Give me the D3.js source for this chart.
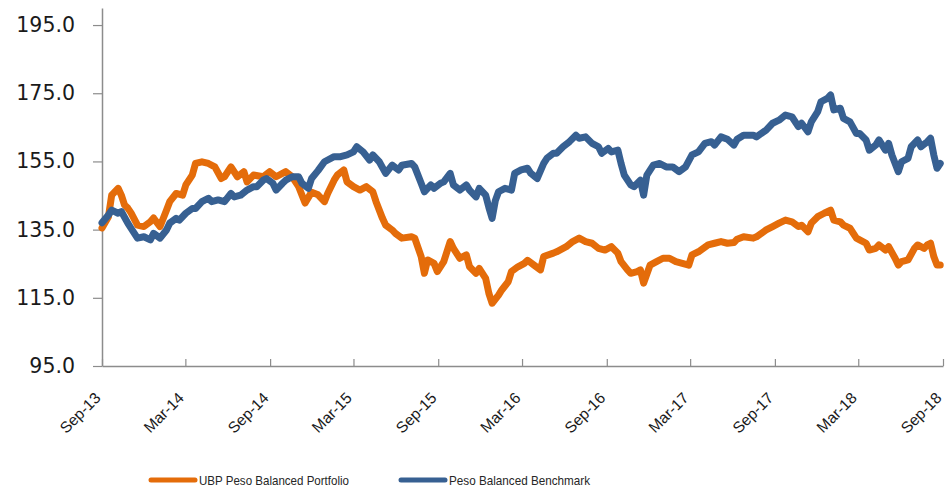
<!DOCTYPE html>
<html><head><meta charset="utf-8">
<script src="https://cdn.jsdelivr.net/npm/d3@7"></script>
<style>html,body{margin:0;padding:0;background:#fff;}svg{display:block;}</style>
</head><body>
<svg id="chart" width="945" height="488"></svg>
<script>
// Series names
const seriesNames = ["UBP Peso Balanced Portfolio", "Peso Balanced Benchmark"];
// Data: [weeks since 1 Sep 2013, index value]
const portfolio = [[0,135.5],[2,138.8],[3,145.1],[5,147.1],[6,145.1],[7,142.2],[8,141.3],[9,139.9],[11,136.3],[13,135.9],[15,137.3],[16,138.4],[18,135.9],[20,140.7],[21,143.2],[23,145.6],[25,145.1],[26,148.1],[28,151.0],[29,154.4],[31,154.9],[33,154.4],[35,153.4],[37,150.0],[38,150.5],[40,153.4],[42,150.5],[44,152.0],[45,149.0],[47,151.0],[50,150.5],[52,152.0],[54,150.5],[57,152.0],[59,150.5],[61,147.6],[63,142.8],[65,146.0],[67,145.2],[69,143.2],[70,145.6],[72,149.5],[73,151.0],[75,152.5],[76,149.0],[78,147.6],[80,146.6],[82,147.6],[84,146.1],[85,143.2],[87,138.3],[88,136.3],[90,134.9],[91,133.9],[93,132.5],[96,132.9],[97,132.5],[99,127.1],[100,122.2],[101,126.1],[103,125.1],[104,122.7],[106,125.6],[108,131.5],[109,129.5],[111,126.6],[113,127.6],[114,124.1],[116,122.2],[117,123.6],[119,120.7],[120,116.3],[121,113.4],[123,115.8],[124,117.3],[126,119.7],[127,122.7],[129,124.1],[131,125.1],[132,126.0],[134,124.6],[136,123.2],[137,127.1],[140,128.1],[141,128.5],[144,130.0],[146,131.5],[148,132.5],[150,131.5],[152,131.0],[154,129.5],[156,129.0],[158,130.0],[160,128.1],[161,125.6],[163,123.2],[164,122.2],[166,122.7],[167,123.2],[168,119.3],[170,124.6],[172,125.6],[174,126.6],[176,126.6],[178,125.6],[180,125.1],[182,124.6],[183,127.6],[185,128.5],[188,130.5],[190,131.0],[192,131.5],[194,131.0],[196,131.2],[197,132.2],[199,132.9],[202,132.5],[203,132.9],[206,134.9],[208,135.9],[210,136.9],[212,137.8],[214,137.3],[216,135.9],[217,136.3],[219,134.4],[220,136.9],[222,138.8],[224,139.8],[226,140.7],[227,137.8],[229,137.3],[230,136.3],[232,135.4],[234,132.5],[235,132.0],[237,131.0],[238,129.0],[240,129.5],[241,130.5],[243,129.0],[244,130.0],[246,126.6],[247,124.6],[248,125.6],[250,126.1],[252,129.5],[253,130.5],[255,129.5],[256,130.5],[257,131.0],[258,127.1],[259,124.6],[260,124.6]];
const benchmark = [[0,137.0],[2,139.3],[3,140.7],[5,139.8],[6,140.3],[8,136.9],[9,135.4],[11,132.5],[13,132.9],[15,132.0],[16,133.9],[18,132.5],[20,134.9],[21,136.9],[23,138.3],[24,137.8],[26,139.8],[28,141.2],[29,141.2],[31,143.2],[33,144.2],[34,143.2],[36,143.7],[38,143.2],[40,145.6],[41,144.6],[43,145.1],[45,146.6],[47,147.6],[48,147.6],[50,149.5],[51,150.0],[53,148.6],[54,146.6],[56,148.6],[57,149.5],[59,150.5],[61,150.5],[62,148.6],[64,147.1],[65,150.0],[67,152.3],[69,154.9],[72,156.4],[74,156.4],[76,156.9],[78,157.8],[79,159.3],[81,157.8],[83,155.4],[84,156.9],[86,154.9],[88,151.5],[90,153.9],[92,152.5],[93,153.9],[96,154.4],[97,153.4],[99,148.6],[100,146.1],[102,148.1],[103,147.1],[105,148.6],[106,149.0],[108,151.5],[109,148.1],[111,146.6],[113,148.1],[114,146.6],[116,144.6],[117,147.1],[119,145.1],[120,141.5],[121,138.3],[122,143.5],[123,146.1],[125,147.1],[127,146.6],[128,151.5],[130,152.5],[132,153.0],[133,151.5],[135,150.0],[137,154.4],[138,155.9],[140,157.4],[141,157.4],[143,159.3],[145,160.8],[147,162.7],[148,161.8],[150,162.2],[152,160.3],[154,159.3],[155,157.4],[157,158.8],[158,157.8],[160,158.3],[161,154.4],[162,151.0],[164,148.1],[165,147.6],[167,149.5],[168,145.1],[169,151.0],[171,153.9],[173,154.4],[175,153.4],[177,153.4],[179,152.0],[181,153.4],[183,156.9],[185,157.8],[187,160.3],[189,160.8],[190,159.8],[192,162.2],[194,161.5],[196,159.8],[197,161.5],[199,162.7],[202,162.7],[203,162.2],[206,164.2],[208,166.2],[210,167.1],[212,168.6],[214,168.1],[216,165.2],[217,166.2],[219,163.7],[220,166.6],[222,169.6],[223,172.5],[225,173.5],[226,174.5],[227,170.1],[229,170.6],[230,167.6],[232,166.6],[234,163.2],[235,163.2],[237,161.3],[238,158.3],[240,159.8],[241,161.3],[243,158.3],[244,160.3],[245,156.9],[247,152.0],[248,154.9],[250,155.9],[251,159.3],[253,161.3],[254,159.3],[256,160.8],[257,161.8],[258,156.9],[259,153.0],[260,154.4]];
const yTicks = [95, 115, 135, 155, 175, 195];
const xTickDates = ["2013-09-01","2014-03-01","2014-09-01","2015-03-01","2015-09-01","2016-03-01","2016-09-01","2017-03-01","2017-09-01","2018-03-01","2018-09-01"];
const xTickLabels = ["Sep-13","Mar-14","Sep-14","Mar-15","Sep-15","Mar-16","Sep-16","Mar-17","Sep-17","Mar-18","Sep-18"];
const colors = ["#E46C0A", "#376092"];

const svg = d3.select("#chart");
const parse = d3.timeParse("%Y-%m-%d");
const startDate = parse("2013-09-01");
const toDate = w => d3.timeDay.offset(startDate, w * 7);

const mLeft = 102, mRight = 943, mTop = 8, mBottom = 366;
const x = d3.scaleTime().domain([parse("2013-09-01"), parse("2018-09-01")]).range([mLeft, mRight]);
const y = d3.scaleLinear().domain([95, 200]).range([mBottom, mTop]);

const axisColor = "#8c8c8c";
// Y axis
const yAxis = svg.append("g").attr("transform", `translate(${mLeft},0)`)
  .call(d3.axisLeft(y).tickValues(yTicks).tickSize(9).tickPadding(18).tickSizeOuter(0).tickFormat(d3.format(".1f")));
yAxis.select(".domain").attr("stroke", axisColor).attr("stroke-width", 1.5);
yAxis.selectAll(".tick line").attr("stroke", axisColor).attr("stroke-width", 1.2);
yAxis.selectAll(".tick text").attr("font-family", "DejaVu Sans, sans-serif").attr("font-size", 20.5).attr("fill", "#1a1a1a");

// X axis
const tickDates = xTickDates.map(parse);
const xAxis = svg.append("g").attr("transform", `translate(0,${mBottom})`)
  .call(d3.axisBottom(x).tickValues(tickDates).tickSize(-7).tickSizeOuter(0).tickFormat((d, i) => xTickLabels[i]));
xAxis.select(".domain").attr("stroke", axisColor).attr("stroke-width", 1.5);
xAxis.selectAll(".tick line").attr("stroke", axisColor).attr("stroke-width", 1.2);
xAxis.selectAll(".tick text")
  .attr("font-family", "Liberation Sans, Arial, sans-serif").attr("font-size", 15.5).attr("fill", "#1a1a1a")
  .attr("text-anchor", "end").attr("dy", null).attr("y", null)
  .attr("transform", "translate(-1,33) rotate(-45)");

// Lines
const line = d3.line().x(d => x(toDate(d[0]))).y(d => y(d[1]));
[portfolio, benchmark].forEach((s, i) => {
  svg.append("path").datum(s).attr("d", line)
    .attr("fill", "none").attr("stroke", colors[i]).attr("stroke-width", 7)
    .attr("stroke-linejoin", "round").attr("stroke-linecap", "round");
});

// Legend
const legendX = [151, 401], legendW = [150, 141];
seriesNames.forEach((n, i) => {
  const g = svg.append("g");
  g.append("line").attr("x1", legendX[i]).attr("x2", legendX[i] + 44).attr("y1", 480).attr("y2", 480)
    .attr("stroke", colors[i]).attr("stroke-width", 5).attr("stroke-linecap", "round");
  g.append("text").attr("x", legendX[i] + 48).attr("y", 484.5).text(n)
    .attr("font-family", "Liberation Sans, Arial, sans-serif").attr("font-size", 13).attr("fill", "#262626")
    .attr("textLength", legendW[i]).attr("lengthAdjust", "spacingAndGlyphs");
});
</script>
</body></html>
